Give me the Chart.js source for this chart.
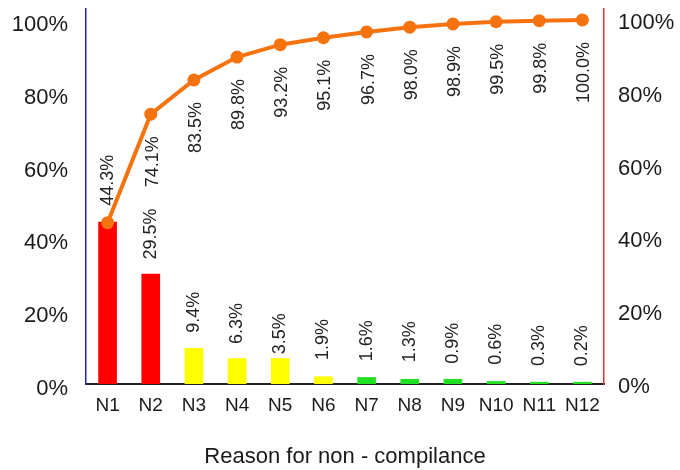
<!DOCTYPE html>
<html><head><meta charset="utf-8">
<script src="https://cdn.jsdelivr.net/npm/chart.js@4/dist/chart.umd.min.js"></script>
<style>html,body{margin:0;padding:0;background:#fff}#wrap{width:680px;height:470px;position:relative}</style>
</head><body><div id="wrap"><canvas id="c"></canvas></div>
<script>
const categories = ['N1','N2','N3','N4','N5','N6','N7','N8','N9','N10','N11','N12'];
// bar heights as drawn in the picture
const barHeights = [44.5, 30.2, 9.8, 7.0, 7.0, 2.0, 1.8, 1.3, 1.3, 0.7, 0.5, 0.5];
// printed percentages for each reason
const barLabels = [44.3, 29.5, 9.4, 6.3, 3.5, 1.9, 1.6, 1.3, 0.9, 0.6, 0.3, 0.2];
// cumulative percentages
const cumulative = [44.3, 74.1, 83.5, 89.8, 93.2, 95.1, 96.7, 98.0, 98.9, 99.5, 99.8, 100.0];
const yTicks = [0, 20, 40, 60, 80, 100];
const xTitle = 'Reason for non - compilance';

const RED = '#FF0000', YEL = '#FFFF00', GRN = '#22E022';
const barColors = [RED, RED, YEL, YEL, YEL, YEL, GRN, GRN, GRN, GRN, GRN, GRN];
const ORANGE = '#F5730F';
const FONT = "'Liberation Sans', Arial, sans-serif";

const labelPlugin = {
  id: 'labels',
  afterDatasetsDraw(chart) {
    const ctx = chart.ctx;
    const y = chart.scales.y;
    ctx.save();
    ctx.fillStyle = '#222';
    ctx.font = '18px ' + FONT;
    ctx.textBaseline = 'middle';
    const barMeta = chart.getDatasetMeta(0);
    barMeta.data.forEach((el, i) => {
      const py = y.getPixelForValue(barLabels[i]) - 17;
      ctx.save();
      ctx.translate(el.x, py);
      ctx.rotate(-Math.PI / 2);
      ctx.textAlign = 'left';
      ctx.fillText(barLabels[i].toFixed(1) + '%', 0, 0);
      ctx.restore();
    });
    const lineMeta = chart.getDatasetMeta(1);
    lineMeta.data.forEach((el, i) => {
      if (i === 0) return;
      ctx.save();
      ctx.translate(el.x + 2, el.y + 22);
      ctx.rotate(-Math.PI / 2);
      ctx.textAlign = 'right';
      ctx.fillText(cumulative[i].toFixed(1) + '%', 0, 0);
      ctx.restore();
    });
    ctx.restore();
  }
};

const keepTicks = (scale) => { scale.ticks = yTicks.map(v => ({ value: v })); };

new Chart(document.getElementById('c'), {
  data: {
    labels: categories,
    datasets: [
      {
        type: 'bar',
        data: barHeights,
        backgroundColor: barColors,
        barThickness: 18,
        yAxisID: 'y',
        order: 1
      },
      {
        type: 'line',
        data: cumulative,
        borderColor: ORANGE,
        backgroundColor: ORANGE,
        borderWidth: 4,
        pointRadius: 6.5,
        pointBackgroundColor: ORANGE,
        pointBorderWidth: 0,
        tension: 0,
        yAxisID: 'y1',
        order: 0
      }
    ]
  },
  options: {
    responsive: true,
    maintainAspectRatio: false,
    animation: false,
    devicePixelRatio: 1,
    layout: { padding: { top: 9, left: 0, right: 0, bottom: 0 } },
    plugins: { legend: { display: false }, tooltip: { enabled: false } },
    scales: {
      x: {
        grid: { display: false, drawTicks: false },
        border: { color: '#222', width: 2 },
        ticks: { color: '#1a1a1a', font: { family: FONT, size: 19 }, padding: 10, maxRotation: 0, autoSkip: false },
        title: { display: true, text: xTitle, color: '#1a1a1a', font: { family: FONT, size: 22 }, padding: { top: 20, bottom: 0 } },
        afterFit(s) { s.height = 86; s.paddingLeft = 0; s.paddingRight = 0; }
      },
      y: {
        position: 'left',
        min: 0, max: 103,
        afterBuildTicks: keepTicks,
        grid: { display: false, drawTicks: false },
        border: { color: '#2222CC', width: 1.5 },
        ticks: { color: '#1a1a1a', font: { family: FONT, size: 22 }, padding: 18, labelOffset: 5, callback: v => v + '%' },
        afterFit(s) { s.width = 86; s.paddingTop = 0; s.paddingBottom = 0; }
      },
      y1: {
        position: 'right',
        min: 0, max: 103,
        afterBuildTicks: keepTicks,
        grid: { display: false, drawTicks: false },
        border: { color: '#DD3333', width: 1.5 },
        ticks: { color: '#1a1a1a', font: { family: FONT, size: 22 }, padding: 14, labelOffset: 3, callback: v => v + '%' },
        afterFit(s) { s.width = 76; s.paddingTop = 0; s.paddingBottom = 0; }
      }
    }
  },
  plugins: [labelPlugin]
});
</script>
</body></html>
